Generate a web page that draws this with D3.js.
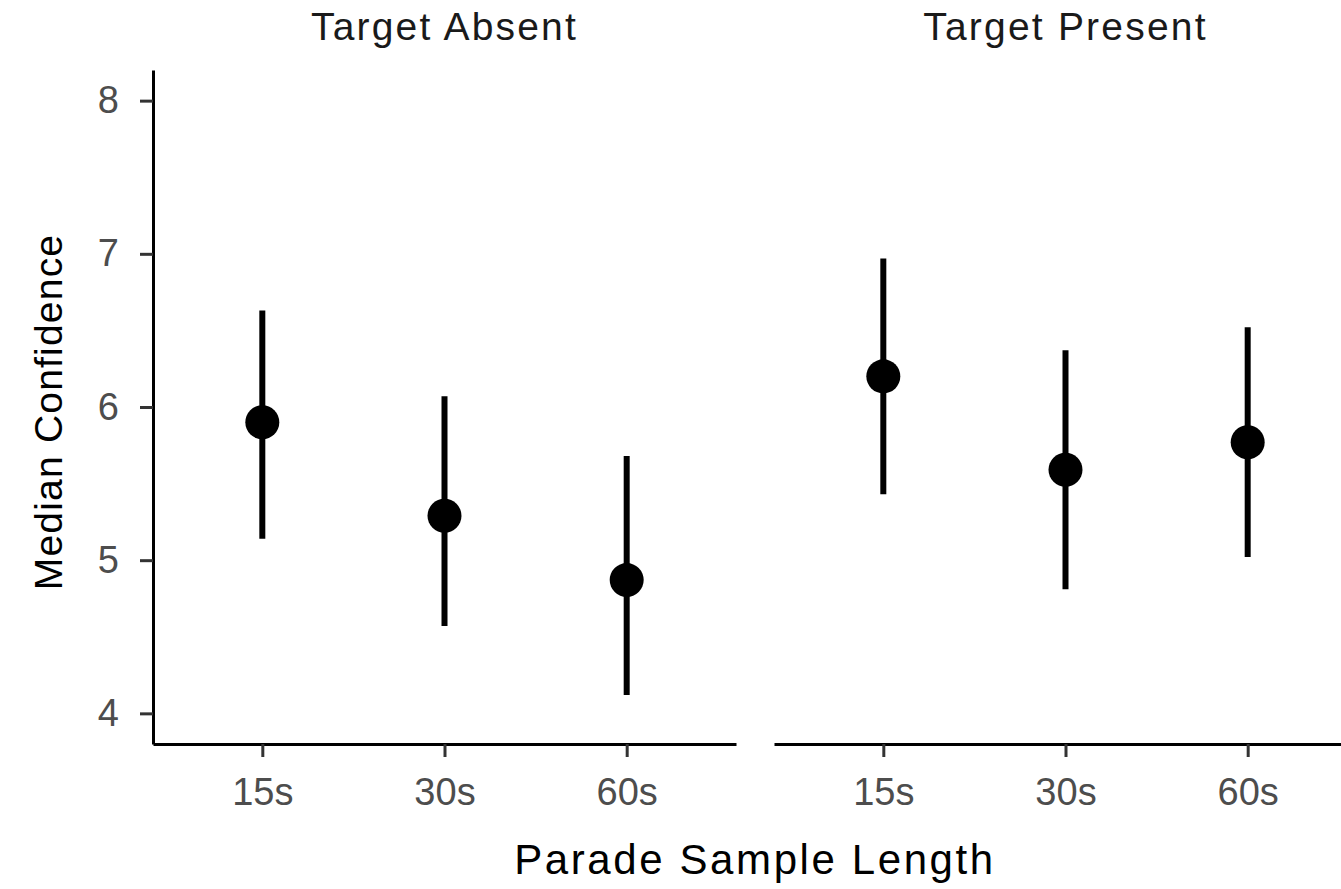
<html>
<head>
<meta charset="utf-8">
<script src="https://cdn.jsdelivr.net/npm/d3@7/dist/d3.min.js"></script>
<style>
body{
	margin: 0;
	background: #fff;
	font-family: "Liberation Sans", Arial, sans-serif;
}
.axis .domain {
	stroke: #000;
	stroke-width: 3px;
}
.axis .tick line {
	stroke: #333;
	stroke-width: 3px;
}
.axis .tick text {
	fill: #4d4d4d;
	font-size: 38px;
	font-family: "Liberation Sans", Arial, sans-serif;
}
.strip-text {
	font-size: 39px;
	fill: #1a1a1a;
	letter-spacing: 2.2px;
}
.axis-title {
	font-size: 42px;
	fill: #000;
}
</style>
</head>
<body>
<div id="chart"></div>

<script>
// facets and x categories
var panels = ["Target Absent", "Target Present"];
var lengths = ["15s", "30s", "60s"];

// median confidence with interval ends
var absentMedian = [5.90, 5.29, 4.87];
var absentLower  = [5.14, 4.57, 4.12];
var absentUpper  = [6.63, 6.07, 5.68];

var presentMedian = [6.20, 5.59, 5.77];
var presentLower  = [5.43, 4.81, 5.02];
var presentUpper  = [6.97, 6.37, 6.52];

var yTicks = [4, 5, 6, 7, 8];

var width = 1341, height = 889;
var panelLeft = [153, 774];
var panelWidth = 583;
var plotTop = 70, plotBottom = 744;

var svg = d3.select("#chart")
	.append("svg")
		.attr("width", width)
		.attr("height", height);

var y = d3.scaleLinear()
	.domain([3.8, 8.2])
	.range([plotBottom, plotTop]);

var x = d3.scalePoint()
	.domain(lengths)
	.range([0, panelWidth])
	.padding(0.6);

var series = [
	{median: absentMedian, lower: absentLower, upper: absentUpper},
	{median: presentMedian, lower: presentLower, upper: presentUpper}
];

panels.forEach(function(name, p) {
	var g = svg.append("g")
		.attr("transform", "translate(" + panelLeft[p] + ",0)");

	// strip title
	g.append("text")
		.attr("class", "strip-text")
		.attr("x", panelWidth / 2)
		.attr("y", 40)
		.attr("text-anchor", "middle")
		.text(name);

	// x axis
	g.append("g")
		.attr("class", "axis")
		.attr("transform", "translate(0," + plotBottom + ")")
		.call(d3.axisBottom(x).tickSize(13).tickSizeOuter(0).tickPadding(21));

	// y axis only on first panel
	if (p == 0) {
		g.append("g")
			.attr("class", "axis")
			.call(d3.axisLeft(y).tickValues(yTicks).tickFormat(d3.format("d"))
				.tickSize(13).tickSizeOuter(0).tickPadding(21));
	}

	var s = series[p];
	var rows = lengths.map(function(l, i) {
		return {len: l, median: s.median[i], lower: s.lower[i], upper: s.upper[i]};
	});

	g.selectAll("line.err")
		.data(rows)
		.enter().append("line")
			.attr("class", "err")
			.attr("x1", function(d) { return x(d.len); })
			.attr("x2", function(d) { return x(d.len); })
			.attr("y1", function(d) { return y(d.lower); })
			.attr("y2", function(d) { return y(d.upper); })
			.attr("stroke", "#000")
			.attr("stroke-width", 6);

	g.selectAll("circle.pt")
		.data(rows)
		.enter().append("circle")
			.attr("class", "pt")
			.attr("cx", function(d) { return x(d.len); })
			.attr("cy", function(d) { return y(d.median); })
			.attr("r", 17)
			.attr("fill", "#000");
});

// axis titles
svg.append("text")
	.attr("class", "axis-title")
	.attr("x", 755)
	.attr("y", 874)
	.attr("text-anchor", "middle")
	.style("letter-spacing", "2.6px")
	.text("Parade Sample Length");

svg.append("text")
	.attr("class", "axis-title")
	.attr("transform", "translate(62,412) rotate(-90)")
	.attr("text-anchor", "middle")
	.style("font-size", "39px")
	.style("letter-spacing", "1.2px")
	.text("Median Confidence");
</script>
</body>
</html>
